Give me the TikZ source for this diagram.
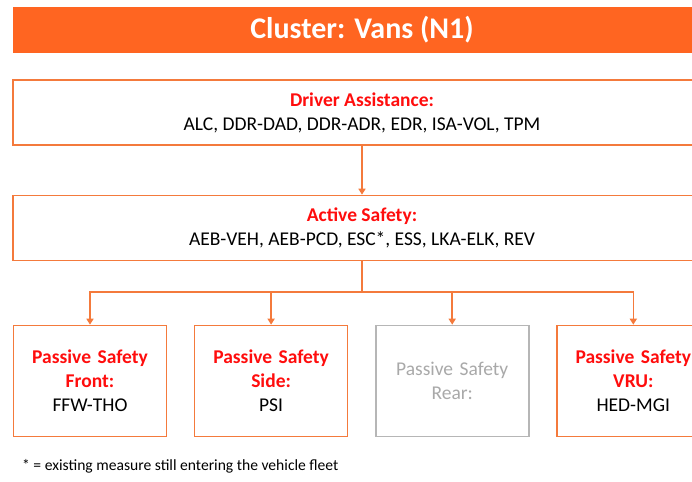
\documentclass[tikz,border=0pt]{standalone}
\usepackage{fontspec}
\setmainfont{Carlito}
\usepackage{xcolor}
\usepackage{tikz}
\usetikzlibrary{arrows.meta,positioning}
\definecolor{naranja}{HTML}{FF6521}
\definecolor{borde}{HTML}{F47A3C}
\definecolor{rojo}{HTML}{FF0D0D}
\definecolor{gris}{HTML}{A9A9A9}

\begin{document}
\begin{tikzpicture}[x=1pt, y=-1pt,
      node distance=28pt and 26.5pt,
      titulo/.style={rectangle, fill=naranja, text=white, minimum width=698pt,
                     minimum height=46pt, font=\fontsize{30}{34}\selectfont\bfseries},
      capa/.style={rectangle, draw=borde, line width=1.6pt, fill=white,
                   minimum width=698pt, minimum height=65pt, align=center,
                   font=\fontsize{19.5}{24}\selectfont},
      pasiva/.style={capa, minimum width=153pt, text width=146pt, inner xsep=2pt,
                     minimum height=111pt},
      pasivag/.style={pasiva, draw=gris!85, text=gris},
      flecha/.style={-{Triangle[length=6pt, width=7pt]}, draw=borde, line width=1.6pt}]

    \useasboundingbox (0,0) rectangle (692,481);
    \clip (0,0) rectangle (692,481);

    \node[titulo] (cluster) at (362,30) {Cluster: Vans (N1)};
    \node[capa] (driver) at (362,112.5) {{\color{rojo}\bfseries Driver Assistance:}\\ALC, DDR-DAD, DDR-ADR, EDR, ISA-VOL, TPM};
    \node[capa] (active) at (362,228) {{\color{rojo}\bfseries Active Safety:}\\AEB-VEH, AEB-PCD, ESC*, ESS, LKA-ELK, REV};

    \node[pasiva] (front) at (90,381) {{\color{rojo}\bfseries Passive Safety\\Front:}\\FFW-THO};
    \node[pasiva, right=of front] (side) {{\color{rojo}\bfseries Passive Safety\\Side:}\\PSI};
    \node[pasivag, right=of side] (rear) {Passive Safety\\Rear:};
    \node[pasiva, right=of rear] (vru) {{\color{rojo}\bfseries Passive Safety\\VRU:}\\HED-MGI};

    \node[anchor=base west, font=\fontsize{15.6}{18}\selectfont, inner sep=0pt] (nota) at (22,470)
      {* = existing measure still entering the vehicle fleet};

    \coordinate (rama) at (362,292);

    \draw[flecha] (driver) -- (active);
    \draw[draw=borde, line width=1.6pt] (active) -- (rama);
    \draw[flecha] (rama) -| (front);
    \draw[flecha] (rama) -| (side);
    \draw[flecha] (rama) -| (rear);
    \draw[flecha] (rama) -| (vru);
  \end{tikzpicture}
\end{document}
